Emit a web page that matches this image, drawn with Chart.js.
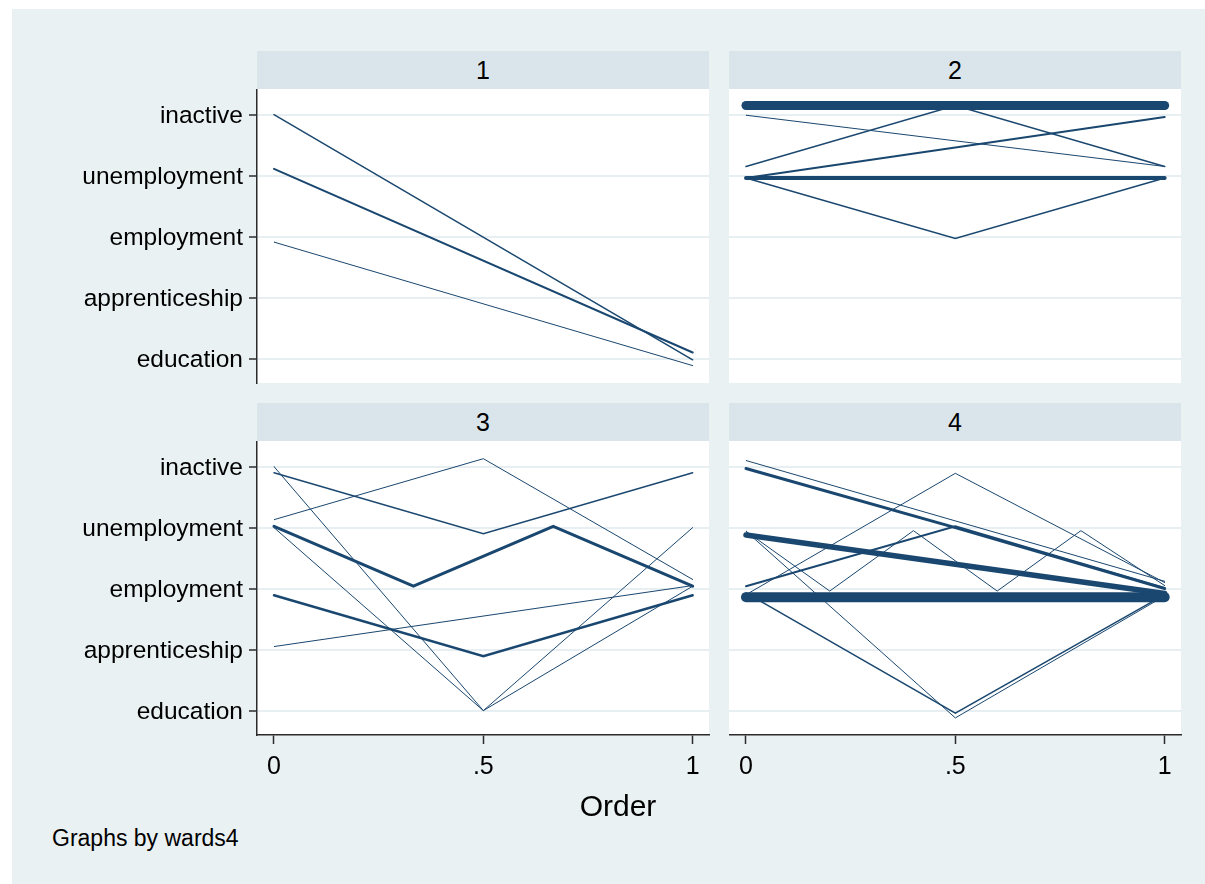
<!DOCTYPE html>
<html>
<head>
<meta charset="utf-8">
<script src="https://cdn.jsdelivr.net/npm/chart.js@4.4.1/dist/chart.umd.min.js"></script>
<style>
  html, body { margin: 0; padding: 0; background: #ffffff; }
  body { width: 1205px; height: 884px; position: relative; overflow: hidden;
         font-family: 'Liberation Sans', Arial, Helvetica, sans-serif; }
  #region { position: absolute; left: 12px; top: 9px; width: 1193px; height: 875px; background: #eaf1f3; }
  .strip { position: absolute; background: #d9e5eb; color: #000; font-size: 25px;
           display: flex; align-items: center; justify-content: center; }
  .panel { position: absolute; }
  .txt { position: absolute; color: #000; white-space: nowrap; }
</style>
</head>
<body>
<div id="region"></div>

<div class="strip" style="left:257px; top:51px; width:452px; height:38px;">1</div>
<div class="strip" style="left:729px; top:51px; width:452px; height:38px;">2</div>
<div class="strip" style="left:257px; top:403px; width:452px; height:38px;">3</div>
<div class="strip" style="left:729px; top:403px; width:452px; height:38px;">4</div>

<canvas id="g1" class="panel" width="672" height="297" style="left:40px; top:89px;"></canvas>
<canvas id="g2" class="panel" width="456" height="297" style="left:729px; top:89px;"></canvas>
<canvas id="g3" class="panel" width="672" height="360" style="left:40px; top:441px;"></canvas>
<canvas id="g4" class="panel" width="456" height="360" style="left:729px; top:441px;"></canvas>

<div class="txt" style="left:618px; top:806px; transform:translate(-50%,-50%); font-size:30px;">Order</div>
<div class="txt" style="left:52px; top:838px; transform:translateY(-50%); font-size:23px;">Graphs by wards4</div>

<script>
// State codes 1..5 and their labels on the vertical axis
const stateLabels = ['education', 'apprenticeship', 'employment', 'unemployment', 'inactive'];
const stateTicks = [1, 2, 3, 4, 5];

// Horizontal axis ticks (relative position in the sequence)
const orderTicks = [0, 0.5, 1];
const orderTickLabels = ['0', '.5', '1'];

// Group 1: sequences (order positions, jittered state codes, frequency)
const g1Order = [[0, 1], [0, 1], [0, 1]];
const g1State = [[5.00, 0.98], [4.11, 1.10], [2.91, 0.885]];
const g1Count = [2, 3, 1];

// Group 2
const g2Order = [[0, 0.5, 1], [0, 1], [0, 0.5, 1], [0, 1], [0, 0.5, 1], [0, 0.5, 1]];
const g2State = [[5.15, 5.15, 5.15], [4.99, 4.15], [4.15, 5.15, 4.15], [3.96, 4.96], [3.96, 3.96, 3.96], [3.96, 2.97, 3.96]];
const g2Count = [17, 1, 2, 3, 7, 2];

// Group 3
const g3Order = [[0, 0.5, 1], [0, 0.5, 1], [0, 0.5, 1], [0, 0.5, 1], [0, 0.333, 0.667, 1], [0, 0.5, 1], [0, 1]];
const g3State = [[5.00, 1.00, 4.00], [4.00, 1.00, 3.04], [4.90, 3.90, 4.90], [4.13, 5.13, 3.15], [4.02, 3.04, 4.02, 3.04], [2.89, 1.89, 2.89], [2.05, 3.05]];
const g3Count = [1, 1, 2, 1, 5, 4, 1];

// Group 4
const g4Order = [[0, 1], [0, 0.5, 1], [0, 0.5, 1], [0, 1], [0, 0.5, 1], [0, 0.2, 0.4, 0.6, 0.8, 1], [0, 0.5, 1], [0, 0.5, 1], [0, 0.5, 1]];
const g4State = [[5.10, 3.12], [4.97, 4.00, 3.00], [3.04, 4.02, 3.01], [3.88, 2.92], [2.86, 2.86, 2.86], [3.94, 2.96, 3.95, 2.96, 3.95, 3.05], [2.90, 4.89, 3.10], [3.94, 0.88, 2.88], [2.93, 0.96, 2.90]];
const g4Count = [1, 5, 3, 10, 19, 1, 1, 1, 2];

const lineColor = '#1a476f';
const axisColor = '#2b2b2b';
const gridColor = '#e8eff2';
const fontFamily = "'Liberation Sans', Arial, Helvetica, sans-serif";

// Line thickness grows with the number of cases following a sequence
function widthFor(count) { return 0.5 + 0.5 * count; }

function buildDatasets(orders, states, counts) {
  return states.map((ys, i) => ({
    data: ys.map((y, j) => ({ x: orders[i][j], y: y })),
    borderColor: lineColor,
    borderWidth: widthFor(counts[i]),
    borderCapStyle: 'round',
    borderJoinStyle: 'miter',
    pointRadius: 0,
    pointHoverRadius: 0,
    tension: 0,
    fill: false
  }));
}

// Labels may overhang the plot region; do not shrink the plot for them
function noOverhang(s) {
  s.paddingTop = 0; s.paddingBottom = 0; s.paddingLeft = 0; s.paddingRight = 0;
}

function makePanel(id, orders, states, counts, opts) {
  const yAxis = {
    type: 'linear',
    min: 0.6,
    max: 5.42,
    afterBuildTicks: (s) => { s.ticks = stateTicks.map(v => ({ value: v })); },
    afterFit: (s) => { s.width = opts.yWidth; noOverhang(s); },
    border: { display: opts.left, color: axisColor, width: 1.5 },
    grid: {
      color: gridColor,
      lineWidth: 2,
      drawTicks: opts.left,
      tickLength: 8,
      tickColor: axisColor,
      tickWidth: 1.5
    },
    ticks: {
      display: opts.left,
      color: '#000',
      padding: 6,
      labelOffset: 2,
      font: { family: fontFamily, size: 24.5 },
      callback: (v) => stateLabels[v - 1]
    }
  };
  const xAxis = {
    type: 'linear',
    min: -0.0406,
    max: 1.039,
    display: opts.bottom,
    afterBuildTicks: (s) => { s.ticks = orderTicks.map(v => ({ value: v })); },
    afterFit: (s) => { if (opts.bottom) s.height = opts.xHeight; noOverhang(s); },
    border: { display: true, color: axisColor, width: 1.5 },
    grid: {
      drawOnChartArea: false,
      drawTicks: true,
      tickLength: 9,
      tickColor: axisColor,
      tickWidth: 1.5
    },
    ticks: {
      color: '#000',
      padding: 8,
      maxRotation: 0,
      font: { family: fontFamily, size: 25 },
      callback: (v) => orderTickLabels[orderTicks.indexOf(v)]
    }
  };
  return new Chart(document.getElementById(id), {
    type: 'line',
    data: { datasets: buildDatasets(orders, states, counts) },
    options: {
      responsive: false,
      animation: false,
      events: [],
      layout: { padding: opts.padding },
      plugins: { legend: { display: false }, tooltip: { enabled: false }, title: { display: false } },
      scales: { x: xAxis, y: yAxis }
    }
  });
}

// Plot-region backgrounds are white inside each panel
Chart.register({
  id: 'plotBackground',
  beforeDraw(chart) {
    const a = chart.chartArea, ctx = chart.ctx;
    ctx.save();
    ctx.fillStyle = '#ffffff';
    ctx.fillRect(a.left, a.top, a.right - a.left, a.bottom - a.top);
    ctx.restore();
  }
});

makePanel('g1', g1Order, g1State, g1Count, { left: true, bottom: false, yWidth: 217, xHeight: 0, padding: { top: 0, right: 3, bottom: 3, left: 0 } });
makePanel('g2', g2Order, g2State, g2Count, { left: false, bottom: false, yWidth: 0, xHeight: 0, padding: { top: 0, right: 4, bottom: 3, left: 0 } });
makePanel('g3', g3Order, g3State, g3Count, { left: true, bottom: true, yWidth: 217, xHeight: 66, padding: { top: 0, right: 3, bottom: 0, left: 0 } });
makePanel('g4', g4Order, g4State, g4Count, { left: false, bottom: true, yWidth: 0, xHeight: 66, padding: { top: 0, right: 4, bottom: 0, left: 0 } });
</script>
</body>
</html>
